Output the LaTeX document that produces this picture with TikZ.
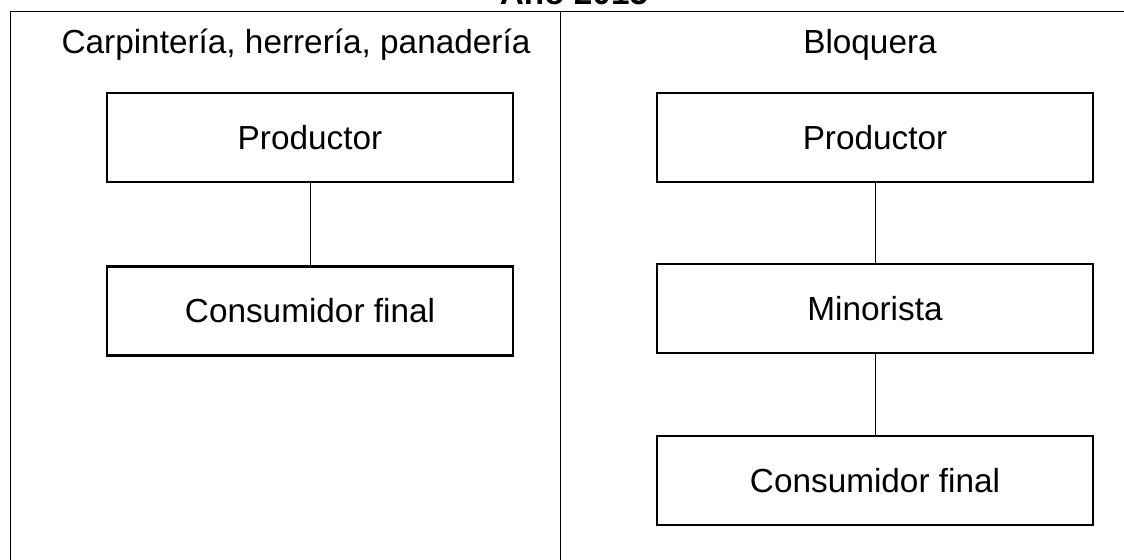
\documentclass[tikz,border=0pt]{standalone}
\usepackage{fontspec}
\setmainfont{Liberation Sans}
\tikzset{every picture/.style={line width=0.75pt}}

\begin{document}
\begin{tikzpicture}[x=0.75pt,y=0.75pt,yscale=-1,xscale=1,
  caja/.style={draw,line width=2pt,minimum height=66.75pt,inner sep=0pt,font=\fontsize{25}{30}\selectfont},
  cajaA/.style={caja,minimum width=304.5pt},
  cajaB/.style={caja,minimum width=327pt},
  texto/.style={inner sep=0.75pt,font=\fontsize{25}{30}\selectfont}]
\useasboundingbox (0,0) rectangle (1124,560);
\clip (0,0) rectangle (1124,560);

%Table lines
\draw (10.5,600) -- (10.5,11.5) -- (1140,11.5) ;
\draw (560.5,11.5) -- (560.5,600) ;

% Title (cut at the top)
\draw (574,5) node [anchor=base][texto] [font=\fontsize{25}{30}\selectfont\bfseries] (titulo) {Año 2015};
% Column heads
\draw (296,54) node [anchor=base][texto] (colA) {Carpintería, herrería, panadería};
\draw (870,54) node [anchor=base][texto] (colB) {Bloquera};

% Left column
\node [cajaA] (prodA) at (310,137.5) {Productor};
\node [cajaA] (consA) at (310,311) {Consumidor final};
\draw (prodA) -- (consA) ;

% Right column
\node [cajaB] (prodB) at (875,137.5) {Productor};
\node [cajaB] (minB) at (875,308.5) {Minorista};
\node [cajaB] (consB) at (875,480.5) {Consumidor final};
\draw (prodB) -- (minB) ;
\draw (minB) -- (consB) ;

\end{tikzpicture}
\end{document}
